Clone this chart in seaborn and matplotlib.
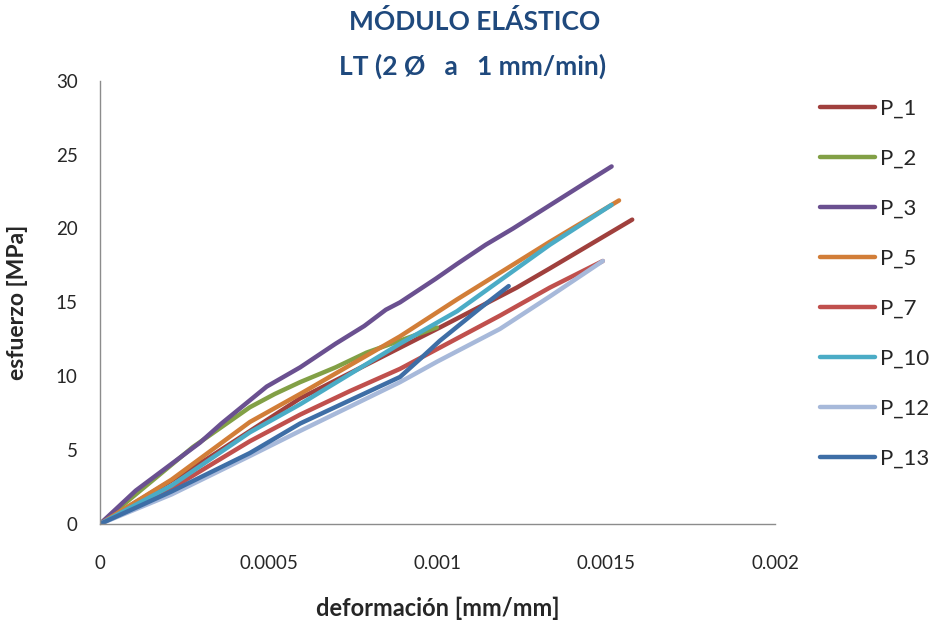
import numpy as np
import pandas as pd
import matplotlib
matplotlib.use("Agg")
import matplotlib.pyplot as plt
import seaborn as sns

# strain [mm/mm] and stress [MPa]
p1_x = [0, 0.000317, 0.000593, 0.001007, 0.001235, 0.001333, 0.001577]
p1_y = [0, 4.4, 8.5, 13.3, 16.0, 17.3, 20.6]

p2_x = [0, 0.000275, 0.000444, 0.000518, 0.000593, 0.000698, 0.00079, 0.000998]
p2_y = [0, 5.2, 7.9, 8.8, 9.6, 10.6, 11.6, 13.3]

p3_x = [0, 0.000106, 0.000296, 0.00036, 0.000494, 0.000593, 0.000698, 0.000783,
        0.000847, 0.000889, 0.000995, 0.001058, 0.001143, 0.001224, 0.001439, 0.001516]
p3_y = [0, 2.26, 5.5, 6.8, 9.3, 10.6, 12.2, 13.4, 14.5, 15.0, 16.6, 17.6, 18.9,
        20.0, 23.1, 24.2]

p5_x = [0, 0.000212, 0.000444, 0.000593, 0.000889, 0.001058, 0.001333, 0.001538]
p5_y = [0, 3.0, 6.9, 8.8, 12.7, 15.2, 19.1, 21.9]

p7_x = [0, 0.000212, 0.000444, 0.000593, 0.000741, 0.000889, 0.001185, 0.001333, 0.00149]
p7_y = [0, 2.4, 5.6, 7.4, 9.0, 10.5, 14.1, 16.0, 17.8]

p10_x = [0, 0.000212, 0.000444, 0.000593, 0.000889, 0.001058, 0.001333, 0.001516]
p10_y = [0, 2.6, 6.2, 8.1, 12.2, 14.4, 18.9, 21.6]

p12_x = [0, 0.000212, 0.000444, 0.000593, 0.000889, 0.001, 0.001185, 0.001333, 0.00149]
p12_y = [0, 2.0, 4.6, 6.3, 9.6, 11.0, 13.2, 15.4, 17.8]

p13_x = [0, 0.000212, 0.000444, 0.000593, 0.000889, 0.00095, 0.001007, 0.001126, 0.001211]
p13_y = [0, 2.2, 4.8, 6.8, 9.95, 11.2, 12.4, 14.6, 16.1]

series = {
    "P_1": (p1_x, p1_y),
    "P_2": (p2_x, p2_y),
    "P_3": (p3_x, p3_y),
    "P_5": (p5_x, p5_y),
    "P_7": (p7_x, p7_y),
    "P_10": (p10_x, p10_y),
    "P_12": (p12_x, p12_y),
    "P_13": (p13_x, p13_y),
}

colors = {
    "P_1": "#A0403D",
    "P_2": "#82A046",
    "P_3": "#6A5090",
    "P_5": "#D27E38",
    "P_7": "#C0504D",
    "P_10": "#4BACC6",
    "P_12": "#A7B9DA",
    "P_13": "#3E6EA6",
}

frames = []
for name, (xs, ys) in series.items():
    frames.append(pd.DataFrame({"deformacion": xs, "esfuerzo": ys, "serie": name}))
df = pd.concat(frames, ignore_index=True)

sns.set_style("white")
plt.rcParams["font.family"] = ["Lato", "DejaVu Sans"]

fig = plt.figure(figsize=(9.39, 6.26), dpi=100)
ax = fig.add_axes([0.1065, 0.163, 0.7188, 0.708])

sns.lineplot(data=df, x="deformacion", y="esfuerzo", hue="serie",
             hue_order=list(series.keys()), palette=colors, sort=False,
             estimator=None, units="serie", linewidth=3.2, ax=ax,
             solid_capstyle="round", solid_joinstyle="round")

ax.set_xlim(0, 0.002)
ax.set_ylim(0, 30)
ax.set_xticks([0, 0.0005, 0.001, 0.0015, 0.002])
ax.set_xticklabels(["0", "0.0005", "0.001", "0.0015", "0.002"])
ax.set_yticks(range(0, 31, 5))
ax.tick_params(axis="x", length=0, pad=22, labelsize=13.5)
ax.tick_params(axis="y", length=0, pad=16, labelsize=13.5)

for s in ["top", "right"]:
    ax.spines[s].set_visible(False)
for s in ["left", "bottom"]:
    ax.spines[s].set_color("#8C8C8C")
    ax.spines[s].set_linewidth(1.0)

ax.set_xlabel("deformación [mm/mm]", fontsize=17, fontweight="bold", labelpad=18)
ax.set_ylabel("esfuerzo [MPa]", fontsize=16.5, fontweight="bold", labelpad=20)

fig.text(0.505, 1 - 22 / 626, "MÓDULO ELÁSTICO", ha="center", va="center",
         fontsize=19, fontweight="bold", color="#1F497D")
fig.text(0.503, 1 - 66 / 626, "LT (2 Ø   a   1 mm/min)", ha="center", va="center",
         fontsize=19, fontweight="bold", color="#1F497D")

ax.legend(loc="upper left", bbox_to_anchor=(0.873, 0.842),
          bbox_transform=fig.transFigure, frameon=False, fontsize=16,
          labelspacing=1.35, handlelength=2.5, handletextpad=0.22,
          borderaxespad=0, borderpad=0)

fig.savefig("out.png", dpi=100)
